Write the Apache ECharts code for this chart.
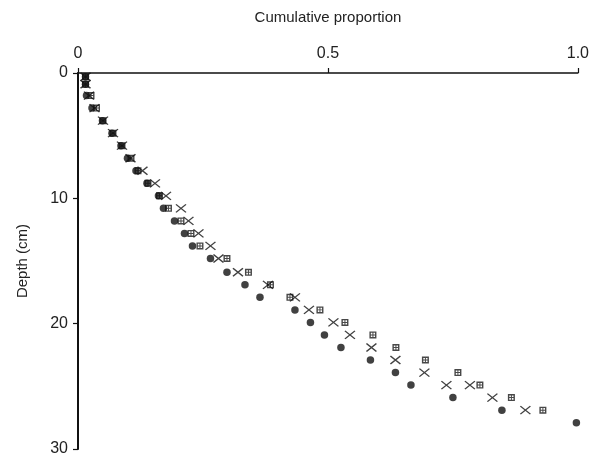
<!DOCTYPE html>
<html>
<head>
<meta charset="utf-8">
<script src="https://cdn.jsdelivr.net/npm/echarts@6/dist/echarts.min.js"></script>
<style>
  html, body { margin: 0; padding: 0; background: #fff; }
  #chart { width: 592px; height: 457px; }
</style>
</head>
<body>
<div id="chart"></div>
<script>
// depth of each row (cm)
var depths = [0.3, 0.9, 1.8, 2.8, 3.8, 4.8, 5.8, 6.8, 7.8, 8.8, 9.8, 10.8, 11.8, 12.8, 13.8,
    14.8, 15.9, 16.9, 17.9, 18.9, 19.9, 20.9, 21.9, 22.9, 23.9, 24.9, 25.9, 26.9, 27.9];

// filled circles
var circleVals = [0.015, 0.015, 0.017, 0.028, 0.049, 0.068, 0.086, 0.099, 0.116, 0.138, 0.161,
    0.171, 0.193, 0.213, 0.229, 0.265, 0.298, 0.334, 0.364, 0.434, 0.465, 0.493, 0.526,
    0.585, 0.635, 0.666, 0.750, 0.848, 0.997];

// hatched squares (no square on the last row)
var squareVals = [0.015, 0.015, 0.026, 0.037, 0.050, 0.070, 0.088, 0.106, 0.120, 0.140, 0.163,
    0.181, 0.206, 0.226, 0.244, 0.298, 0.341, 0.385, 0.424, 0.484, 0.534, 0.590, 0.636,
    0.695, 0.760, 0.804, 0.867, 0.930];

// crosses
var crossDepths = [0.3, 0.9, 1.8, 2.8, 3.8, 4.8, 5.8, 6.8, 7.8, 8.8, 9.8, 10.8, 11.8, 12.8, 13.8,
    14.8, 15.9, 16.9, 17.9, 18.9, 19.9, 20.9, 21.9, 22.9, 23.9, 24.9, 24.9, 25.9, 26.9];
var crossVals = [0.015, 0.015, 0.022, 0.033, 0.050, 0.070, 0.088, 0.105, 0.129, 0.154, 0.176,
    0.206, 0.221, 0.241, 0.265, 0.281, 0.320, 0.380, 0.434, 0.462, 0.511, 0.544, 0.587,
    0.635, 0.693, 0.737, 0.784, 0.829, 0.895];

function pairs(xs, ys) {
    var out = [];
    for (var i = 0; i < xs.length; i++) out.push([xs[i], ys[i]]);
    return out;
}

var font = 'Liberation Sans';
var chart = echarts.init(document.getElementById('chart'));

var option = {
    animation: false,
    grid: { left: 78, right: 9, top: 73, bottom: 7 },
    xAxis: {
        type: 'value',
        position: 'top',
        min: 0, max: 1, interval: 0.5,
        name: 'Cumulative proportion',
        nameLocation: 'middle',
        nameGap: 48,
        nameTextStyle: { fontFamily: font, fontSize: 15, color: '#222' },
        axisLine: { lineStyle: { color: '#111', width: 1.5 } },
        axisTick: { show: true, length: 5, lineStyle: { color: '#111', width: 1.2 } },
        axisLabel: {
            fontFamily: font, fontSize: 16, color: '#222', margin: 11,
            formatter: function(v) { return v === 0 ? '0' : v.toFixed(1); }
        },
        splitLine: { show: false }
    },
    yAxis: {
        type: 'value',
        inverse: true,
        min: 0, max: 30, interval: 10,
        name: 'Depth (cm)',
        nameLocation: 'middle',
        nameGap: 48,
        nameTextStyle: { fontFamily: font, fontSize: 15, color: '#222' },
        axisLine: { lineStyle: { color: '#111', width: 2 } },
        axisTick: { show: true, length: 5, lineStyle: { color: '#111', width: 1.2 } },
        axisLabel: { fontFamily: font, fontSize: 16, color: '#222', margin: 10 },
        splitLine: { show: false }
    },
    series: [{
        name: 'squares',
        type: 'scatter',
        // square with a cross-hatch, like the printed marks
        symbol: 'path://M0,0H10V10H0Z M2,2V4.3H4.3V2Z M5.7,2V4.3H8V2Z M2,5.7V8H4.3V5.7Z M5.7,5.7V8H8V5.7Z',
        symbolSize: 7,
        itemStyle: { color: '#1a1a1a' },
        data: pairs(squareVals, depths.slice(0, squareVals.length))
    }, {
        name: 'crosses',
        type: 'scatter',
        symbol: 'path://M0,0L10,8M10,0L0,8',
        symbolSize: [10, 8],
        itemStyle: { color: 'none', borderColor: '#111', borderWidth: 1.3 },
        data: pairs(crossVals, crossDepths)
    }, {
        name: 'circles',
        type: 'scatter',
        symbol: 'circle',
        symbolSize: 7.5,
        itemStyle: { color: '#111' },
        data: pairs(circleVals, depths)
    }]
};

chart.setOption(option);
</script>
</body>
</html>
